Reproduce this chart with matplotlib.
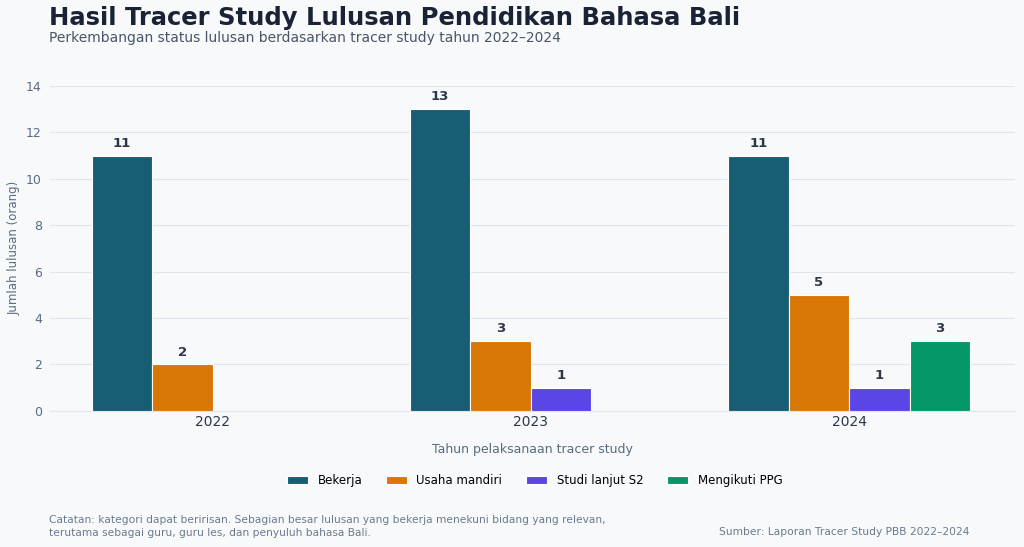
import matplotlib.pyplot as plt
import numpy as np

years = ["2022", "2023", "2024"]
series = ["Bekerja", "Usaha mandiri", "Studi lanjut S2", "Mengikuti PPG"]
values = {
    "Bekerja": [11, 13, 11],
    "Usaha mandiri": [2, 3, 5],
    "Studi lanjut S2": [0, 1, 1],
    "Mengikuti PPG": [0, 0, 3],
}
colors = ["#175e74", "#d97706", "#5a45e6", "#059669"]

bg = "#f7f9fb"
fig = plt.figure(figsize=(10.24, 5.47), dpi=100, facecolor=bg)
ax = fig.add_axes([0.049, 0.249, 0.942, 0.594], facecolor=bg)

x = np.arange(len(years))
w = 0.19
for i, (name, c) in enumerate(zip(series, colors)):
    off = (i - 1.5) * w
    vals = values[name]
    ax.bar(x + off, vals, w, color=c, label=name, edgecolor="white", linewidth=0.8, zorder=3)
    for xi, v in zip(x, vals):
        if v > 0:
            ax.text(xi + off, v + 0.25, str(v), ha="center", va="bottom",
                    fontsize=9.5, fontweight="bold", color="#2d3748")

ax.set_xlim(-0.51, 2.52)
ax.set_ylim(0, 14)
ax.set_yticks(range(0, 15, 2))
ax.set_xticks(x)
ax.set_xticklabels(years, fontsize=10, color="#2d3748")
ax.tick_params(axis="y", labelsize=9, colors="#5a6b7f", length=0, pad=6)
ax.tick_params(axis="x", length=0, pad=3)
ax.grid(axis="y", color="#e2e6ec", linewidth=0.8, zorder=0)
for s in ["top", "right", "left"]:
    ax.spines[s].set_visible(False)
ax.spines["bottom"].set_color("#e2e6ec")
ax.set_xlabel("Tahun pelaksanaan tracer study", fontsize=9, color="#5a6b7f", labelpad=10)
ax.set_ylabel("Jumlah lulusan (orang)", fontsize=8.5, color="#5a6b7f", labelpad=4)

fig.legend(loc="center", bbox_to_anchor=(0.522, 0.122), ncol=4, frameon=False,
           fontsize=8.5, handlelength=1.8, columnspacing=2.0)

fig.text(0.048, 0.968, "Hasil Tracer Study Lulusan Pendidikan Bahasa Bali",
         fontsize=17.5, fontweight="bold", color="#1a2236", va="center")
fig.text(0.048, 0.93, "Perkembangan status lulusan berdasarkan tracer study tahun 2022\u20132024",
         fontsize=10, color="#4a5568", va="center")
fig.text(0.048, 0.038, "Catatan: kategori dapat beririsan. Sebagian besar lulusan yang bekerja menekuni bidang yang relevan,\nterutama sebagai guru, guru les, dan penyuluh bahasa Bali.",
         fontsize=7.7, color="#6b7a8f", va="center", linespacing=1.4)
fig.text(0.947, 0.027, "Sumber: Laporan Tracer Study PBB 2022\u20132024",
         fontsize=7.7, color="#6b7a8f", va="center", ha="right")

fig.savefig("out.png", dpi=100, facecolor=bg)
